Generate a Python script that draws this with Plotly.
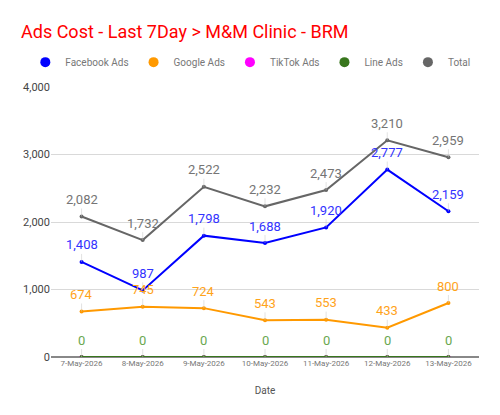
import plotly.graph_objects as go

dates = ["7-May-2026", "8-May-2026", "9-May-2026", "10-May-2026",
         "11-May-2026", "12-May-2026", "13-May-2026"]

facebook = [1408, 987, 1798, 1688, 1920, 2777, 2159]
google = [674, 745, 724, 543, 553, 433, 800]
tiktok = [0, 0, 0, 0, 0, 0, 0]
line_ads = [0, 0, 0, 0, 0, 0, 0]
total = [2082, 1732, 2522, 2232, 2473, 3210, 2959]

y_ticks = [0, 1000, 2000, 3000, 4000]

# name, values, line colour, label colour
series = [
    ("Facebook Ads", facebook, "#0000ff", "#3333ff"),
    ("Google Ads", google, "#ff9900", "#ffa31a"),
    ("TikTok Ads", tiktok, "#ff00ff", None),
    ("Line Ads", line_ads, "#38761d", "#6aa84f"),
    ("Total", total, "#666666", "#757575"),
]

fig = go.Figure()
annotations = []

for name, vals, col, lab_col in series:
    fig.add_trace(go.Scatter(
        x=dates, y=vals, name=name, mode="lines+markers",
        line=dict(color=col, width=2),
        marker=dict(color=col, size=4),
        showlegend=False,
    ))
    # legend entry: just a round dot, like the original
    fig.add_trace(go.Scatter(
        x=[None], y=[None], name=name, mode="markers",
        marker=dict(color=col, size=10),
    ))
    if lab_col is None:
        continue
    for d, v in zip(dates, vals):
        annotations.append(dict(
            x=d, y=v, xref="x", yref="y",
            text=f"{v:,}", showarrow=True, arrowhead=0, arrowwidth=1,
            arrowcolor="rgba(200,200,200,0.5)", ax=0, ay=-17,
            font=dict(family="Roboto", size=13, color=lab_col),
        ))

fig.update_layout(
    width=500, height=415,
    margin=dict(l=51, r=21, t=87, b=58, autoexpand=False),
    paper_bgcolor="white", plot_bgcolor="white",
    font=dict(family="Roboto", color="#666666"),
    title=dict(text="Ads Cost - Last 7Day > M&M Clinic - BRM",
               x=0.042, xanchor="left", y=0.923, yanchor="middle",
               font=dict(family="Roboto", size=18, color="#ff0000")),
    # x slightly left of the plot so plotly allows a wider single row
    legend=dict(orientation="h", x=-0.06, xanchor="left",
                y=1.092, yanchor="middle",
                font=dict(size=10, color="#777777"),
                itemwidth=30, tracegroupgap=0),
    annotations=annotations,
)

fig.update_xaxes(
    type="category", range=[-0.5, 6.5],
    showgrid=False, showline=False, ticks="",
    tickfont=dict(size=8, color="#777777"),
    title=dict(text="Date", font=dict(size=10, color="#555555"), standoff=19),
)
fig.update_yaxes(
    range=[0, 4000], tickvals=y_ticks, tickformat=",",
    showgrid=True, gridcolor="#d9d9d9", gridwidth=1,
    zeroline=True, zerolinecolor="#888888", zerolinewidth=2,
    tickfont=dict(size=11, color="#444444"),
)

# drop the browser's default 8px body margin so the chart sits at 0,0
fig.write_html("out.html", config={"displayModeBar": False},
               post_script="document.body.style.margin='0';")
